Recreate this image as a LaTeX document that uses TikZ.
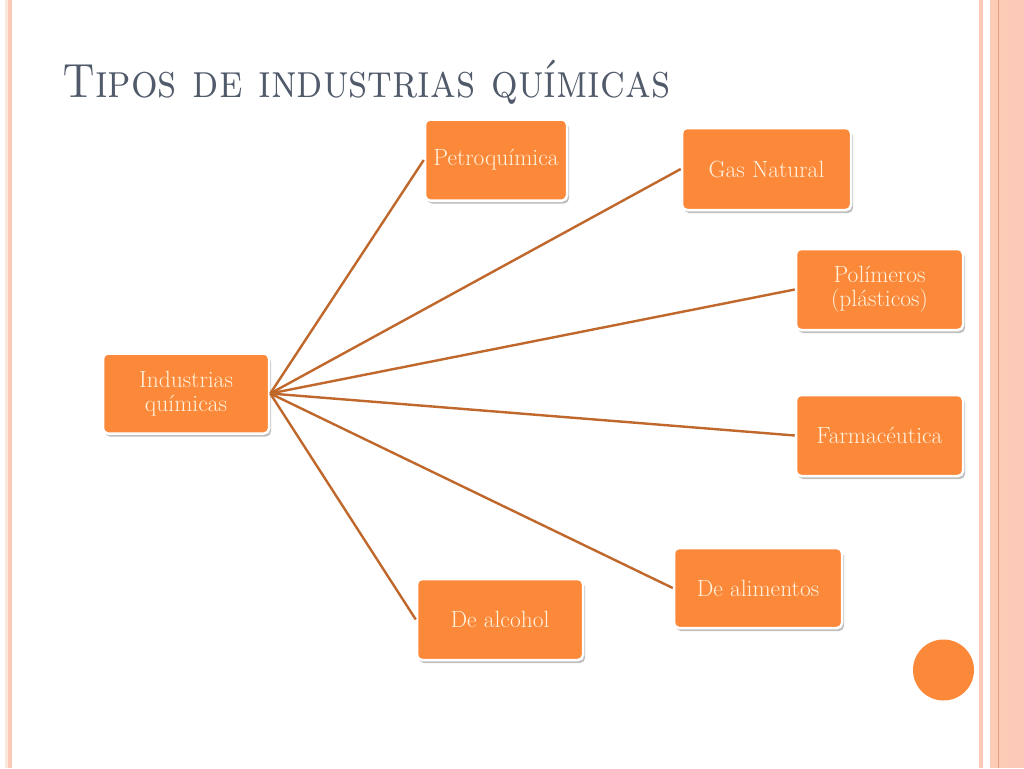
\documentclass[tikz,border=0pt]{standalone}
\usepackage{fontspec}
\usetikzlibrary{shadows}
\definecolor{boxfill}{RGB}{252,136,58}
\definecolor{boxtext}{RGB}{255,243,222}
\definecolor{linkc}{RGB}{192,104,44}
\definecolor{titlec}{RGB}{80,90,106}
\definecolor{stripe}{RGB}{252,200,184}
\definecolor{stripeb}{RGB}{253,204,182}
\definecolor{stripec}{RGB}{232,158,124}
\definecolor{cream}{RGB}{250,232,218}
\tikzset{
  x=1pt,y=-1pt,
  box/.style={draw=white, line width=2.5pt, fill=boxfill, rounded corners=5pt,
    minimum width=166pt, minimum height=80pt, align=center, text=boxtext,
    font=\fontsize{23.5}{24.5}\selectfont, inner sep=2pt,
    drop shadow={shadow xshift=2pt, shadow yshift=-3pt, opacity=0.25, fill=black}},
  link/.style={draw=linkc, line width=2.4pt}
}
\begin{document}
\begin{tikzpicture}
\useasboundingbox (0,0) rectangle (1024,768);
\fill[white] (0,0) rectangle (1024,768);
% left border
\fill[cream] (5,0) rectangle (8,768);
\fill[stripe] (8,0) rectangle (12,768);
% right border
\fill[stripe] (979,0) rectangle (983,768);
\fill[stripeb] (990,0) rectangle (1024,768);
\fill[stripe!80!stripeb] (1008,0) rectangle (1024,768);
\draw[stripec, line width=1pt] (998.5,0) -- (998.5,768);
% title
\node[anchor=base west, text=titlec, font=\fontsize{48}{56}\selectfont, inner sep=0pt] (title) at (62,97) {\resizebox{608pt}{\height}{\textsc{Tipos de industrias químicas}}};
% nodes
\node[box] (ind) at (186,393.5) {Industrias\\químicas};
\node[box, minimum width=142pt, minimum height=81pt] (petro) at (496,160) {Petroquímica};
\node[box, minimum width=169pt, minimum height=82pt] (gas) at (766.5,169) {Gas Natural};
\node[box, minimum width=167pt, minimum height=81pt] (poli) at (879.5,289.5) {Polímeros\\(plásticos)};
\node[box, minimum width=167pt, minimum height=81pt] (farma) at (879.5,435.5) {Farmacéutica};
\node[box, minimum width=168pt, minimum height=80pt] (alim) at (758,588) {De alimentos};
\node[box, minimum width=166pt, minimum height=81pt] (alco) at (500,619.5) {De alcohol};
% circle
\fill[boxfill] (943.5,670) circle (30.5);
% links
\foreach \t in {petro,gas,poli,farma,alim,alco}
  \draw[link] (ind.east) -- (\t.west);
\end{tikzpicture}
\end{document}
